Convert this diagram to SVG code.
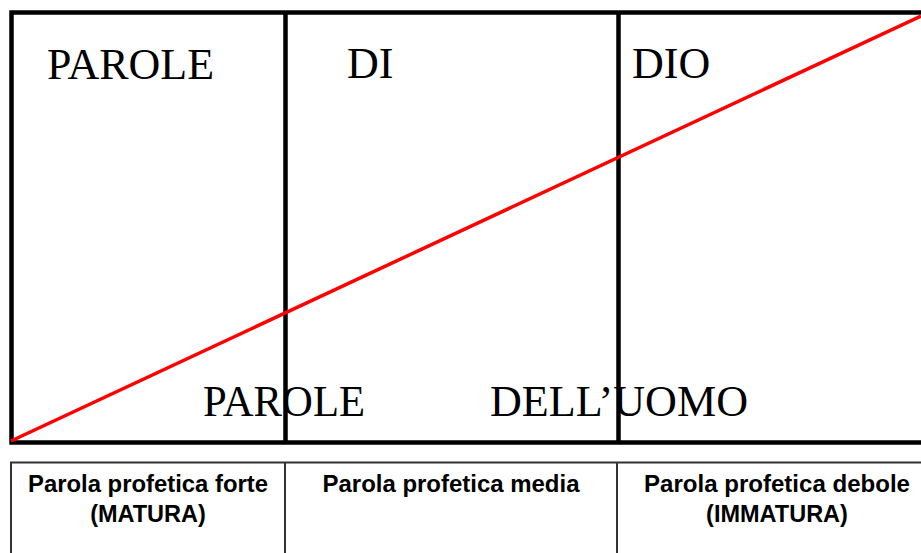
<svg xmlns="http://www.w3.org/2000/svg" width="921" height="553" viewBox="0 0 921 553">
<style>
.frame{fill:none;stroke:#000;stroke-width:4.5}
.div{stroke:#000;stroke-width:4.5}
.tline{stroke:#333;stroke-width:2;fill:none}
.big{font-family:"Liberation Serif","Times New Roman",serif;font-size:44px;fill:#000}
.cell{font-family:"Liberation Sans",Arial,sans-serif;font-size:23.5px;font-weight:bold;fill:#000;text-anchor:middle}
</style>
<rect width="921" height="553" fill="#fff"/>
<g id="chart">
<path class="frame" d="M930 12.5 H11.5 V442.5 H930"/>
<line class="div" x1="285.5" y1="12" x2="285.5" y2="443"/>
<line class="div" x1="618.5" y1="12" x2="618.5" y2="443"/>
</g>
<g id="connectors">
<line x1="11" y1="441" x2="921" y2="16" stroke="#f00" stroke-width="3.5"/>
</g>
<g id="labels">
<text class="big" x="47" y="79" textLength="167" lengthAdjust="spacingAndGlyphs">PAROLE</text>
<text class="big" x="347" y="78">DI</text>
<text class="big" x="632" y="78">DIO</text>
<text class="big" x="203" y="416" textLength="162" lengthAdjust="spacingAndGlyphs">PAROLE</text>
<text class="big" x="490" y="416" textLength="258" lengthAdjust="spacingAndGlyphs">DELL’UOMO</text>
</g>
<g id="table">
<path class="tline" d="M930 462.5 H11 V560"/>
<line class="tline" x1="285" y1="462" x2="285" y2="560"/>
<line class="tline" x1="617" y1="462" x2="617" y2="560"/>
</g>
<g id="cell1">
<text class="cell" x="148" y="492" textLength="240" lengthAdjust="spacingAndGlyphs">Parola profetica forte</text>
<text class="cell" x="148" y="522">(MATURA)</text>
</g>
<g id="cell2">
<text class="cell" x="451" y="492" textLength="257" lengthAdjust="spacingAndGlyphs">Parola profetica media</text>
</g>
<g id="cell3">
<text class="cell" x="777" y="492" textLength="266" lengthAdjust="spacingAndGlyphs">Parola profetica debole</text>
<text class="cell" x="777" y="522">(IMMATURA)</text>
</g>
</svg>
